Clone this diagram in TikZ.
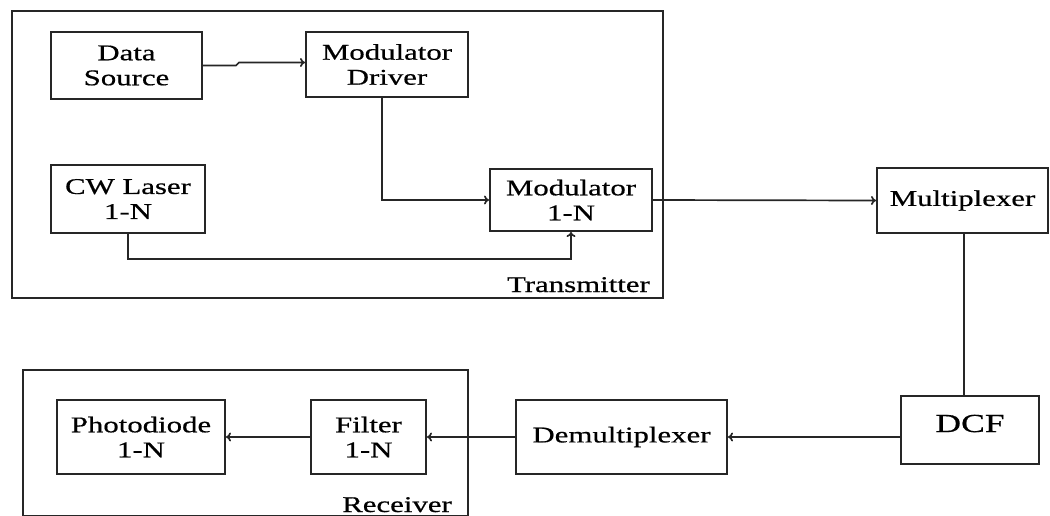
\documentclass[tikz,border=0pt]{standalone}
\usepackage{fontspec}
\setmainfont{Liberation Serif}[FakeStretch=1.37,FakeBold=0.6]
\usetikzlibrary{arrows.meta,calc}
\begin{document}
\begin{tikzpicture}[x=1pt,y=-1pt,
  blk/.style={draw=black!85,line width=2pt,inner sep=0pt,align=center,
    font=\fontsize{22.5}{25}\selectfont},
  grp/.style={draw=black!85,line width=2pt},
  conn/.style={draw=black!85,line width=1.7pt,-{To[length=5pt,width=9pt]}},
  plain/.style={draw=black!85,line width=1.7pt},
  lbl/.style={inner sep=0pt,font=\fontsize{22.5}{25}\selectfont}]
\useasboundingbox (0,0) rectangle (1050,515);
% group boxes
\draw[grp] (12,11) rectangle (663,298);
\draw[grp] (23,370) rectangle (468,516);
\node[lbl,anchor=base east] (tx) at (650,292) {Transmitter};
\node[lbl,anchor=base east] (rx) at (452,512) {Receiver};
% blocks
\node[blk,minimum width=151,minimum height=67] (ds) at (126.5,65.5) {Data\\Source};
\node[blk,minimum width=162,minimum height=65] (md) at (387,64.5) {Modulator\\Driver};
\node[blk,minimum width=154,minimum height=68] (cw) at (128,199) {CW Laser\\1-N};
\node[blk,minimum width=162,minimum height=62] (mod) at (571,200) {Modulator\\1-N};
\node[blk,minimum width=171,minimum height=65] (mux) at (962.5,200.5) {Multiplexer};
\node[blk,anchor=base,minimum width=138,text height=36,text depth=32,
  font=\fontsize{26}{28}\selectfont] (dcf) at (970,432) {DCF};
\node[blk,minimum width=211,minimum height=74] (demux) at (621.5,437) {Demultiplexer};
\node[blk,minimum width=115,minimum height=74] (filt) at (368.5,437) {Filter\\1-N};
\node[blk,minimum width=168,minimum height=74] (pd) at (141,437) {Photodiode\\1-N};
% connectors
\draw[conn] (ds.east) -- ++(33,0) -- ++(3,-3) coordinate (j) -- (j -| md.west);
\draw[conn] ([xshift=-5pt]md.south) |- (mod.west);
\draw[conn] (cw.south) -- ++(0,25) -| (mod.south);
\draw[conn] (mod.east) -- (mux.west);
\draw[plain] ([xshift=1.5pt]mux.south) -- ([xshift=1.5pt]mux.south |- dcf.north);
\draw[conn] (dcf.west |- demux.east) -- (demux.east);
\draw[conn] (demux.west) -- (filt.east);
\draw[conn] (filt.west) -- (pd.east);
\end{tikzpicture}
\end{document}
